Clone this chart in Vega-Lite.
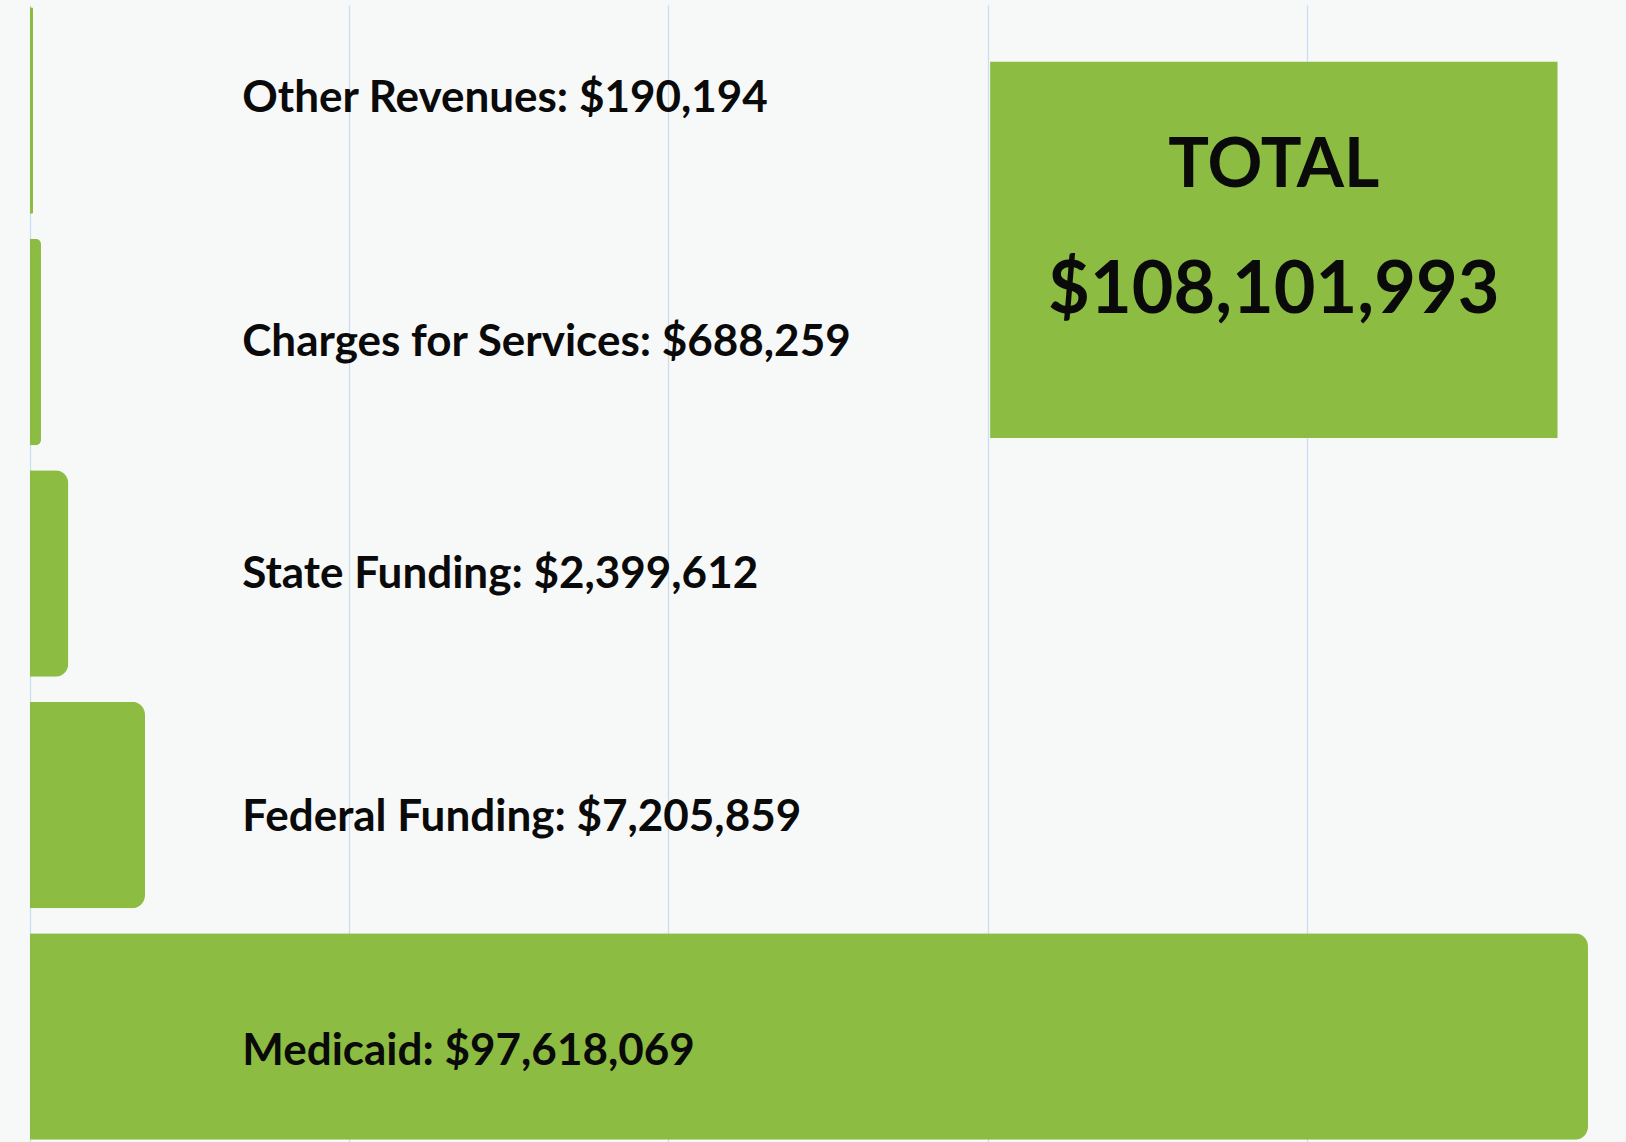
{
  "$schema": "https://vega.github.io/schema/vega-lite/v6.json",
  "width": 1596,
  "height": 1137,
  "autosize": {"type": "none"},
  "padding": {"left": 30, "top": 5, "right": 0, "bottom": 0},
  "background": "#f7f8f8",
  "config": {"view": {"stroke": null}},
  "layer": [
    {
      "data": {"values": [
        {"source": "Other Revenues", "amount": 190194, "label": "Other Revenues: $190,194"},
        {"source": "Charges for Services", "amount": 688259, "label": "Charges for Services: $688,259"},
        {"source": "State Funding", "amount": 2399612, "label": "State Funding: $2,399,612"},
        {"source": "Federal Funding", "amount": 7205859, "label": "Federal Funding: $7,205,859"},
        {"source": "Medicaid", "amount": 97618069, "label": "Medicaid: $97,618,069"}
      ]},
      "encoding": {
        "y": {"field": "source", "type": "nominal", "sort": null, "axis": null,
              "scale": {"type": "band", "paddingInner": 0.108, "paddingOuter": 0.01}}
      },
      "layer": [
        {
          "mark": {"type": "bar", "color": "#8cbd42", "cornerRadiusEnd": 13},
          "encoding": {
            "x": {"field": "amount", "type": "quantitative",
                  "scale": {"domain": [0, 100000000], "nice": false},
                  "axis": {"values": [0, 20000000, 40000000, 60000000, 80000000, 100000000],
                           "grid": true, "gridColor": "#c9def0", "gridWidth": 1.2,
                           "labels": false, "ticks": false, "domain": false, "title": null}}
          }
        },
        {
          "transform": [{"filter": "datum.source === 'Other Revenues'"}],
          "mark": {"type": "text", "align": "left", "baseline": "middle", "font": "Lato",
                   "fontWeight": "bold", "fontSize": 44, "color": "#0a0a0a", "dy": -12},
          "encoding": {
            "x": {"datum": 13300000, "type": "quantitative"},
            "text": {"field": "label", "type": "nominal"}
          }
        },
        {
          "transform": [{"filter": "datum.source === 'Charges for Services' || datum.source === 'State Funding'"}],
          "mark": {"type": "text", "align": "left", "baseline": "middle", "font": "Lato",
                   "fontWeight": "bold", "fontSize": 44, "color": "#0a0a0a", "dy": 1},
          "encoding": {
            "x": {"datum": 13300000, "type": "quantitative"},
            "text": {"field": "label", "type": "nominal"}
          }
        },
        {
          "transform": [{"filter": "datum.source === 'Federal Funding'"}],
          "mark": {"type": "text", "align": "left", "baseline": "middle", "font": "Lato",
                   "fontWeight": "bold", "fontSize": 44, "color": "#0a0a0a", "dy": 13},
          "encoding": {
            "x": {"datum": 13300000, "type": "quantitative"},
            "text": {"field": "label", "type": "nominal"}
          }
        },
        {
          "transform": [{"filter": "datum.source === 'Medicaid'"}],
          "mark": {"type": "text", "align": "left", "baseline": "middle", "font": "Lato",
                   "fontWeight": "bold", "fontSize": 44, "color": "#0a0a0a", "dy": 16},
          "encoding": {
            "x": {"datum": 13300000, "type": "quantitative"},
            "text": {"field": "label", "type": "nominal"}
          }
        }
      ]
    },
    {
      "data": {"values": [{"title": "TOTAL", "total": "$108,101,993"}]},
      "layer": [
        {
          "mark": {"type": "rect", "color": "#8cbd42"},
          "encoding": {
            "x": {"datum": 60160000, "type": "quantitative"},
            "x2": {"datum": 95710000},
            "y": {"datum": 0.25, "type": "quantitative", "axis": null,
                  "scale": {"domain": [0, 5], "reverse": true, "nice": false, "zero": false}},
            "y2": {"datum": 1.904}
          }
        },
        {
          "mark": {"type": "text", "align": "center", "baseline": "middle", "font": "Lato",
                   "fontWeight": "bold", "fontSize": 68, "color": "#0a0a0a"},
          "encoding": {
            "x": {"datum": 77930000, "type": "quantitative"},
            "y": {"datum": 0.713, "type": "quantitative"},
            "text": {"field": "title", "type": "nominal"}
          }
        },
        {
          "mark": {"type": "text", "align": "center", "baseline": "middle", "font": "Lato",
                   "fontWeight": "bold", "fontSize": 72, "color": "#0a0a0a"},
          "encoding": {
            "x": {"datum": 77930000, "type": "quantitative"},
            "y": {"datum": 1.259, "type": "quantitative"},
            "text": {"field": "total", "type": "nominal"}
          }
        }
      ]
    }
  ],
  "resolve": {"scale": {"y": "independent"}}
}
